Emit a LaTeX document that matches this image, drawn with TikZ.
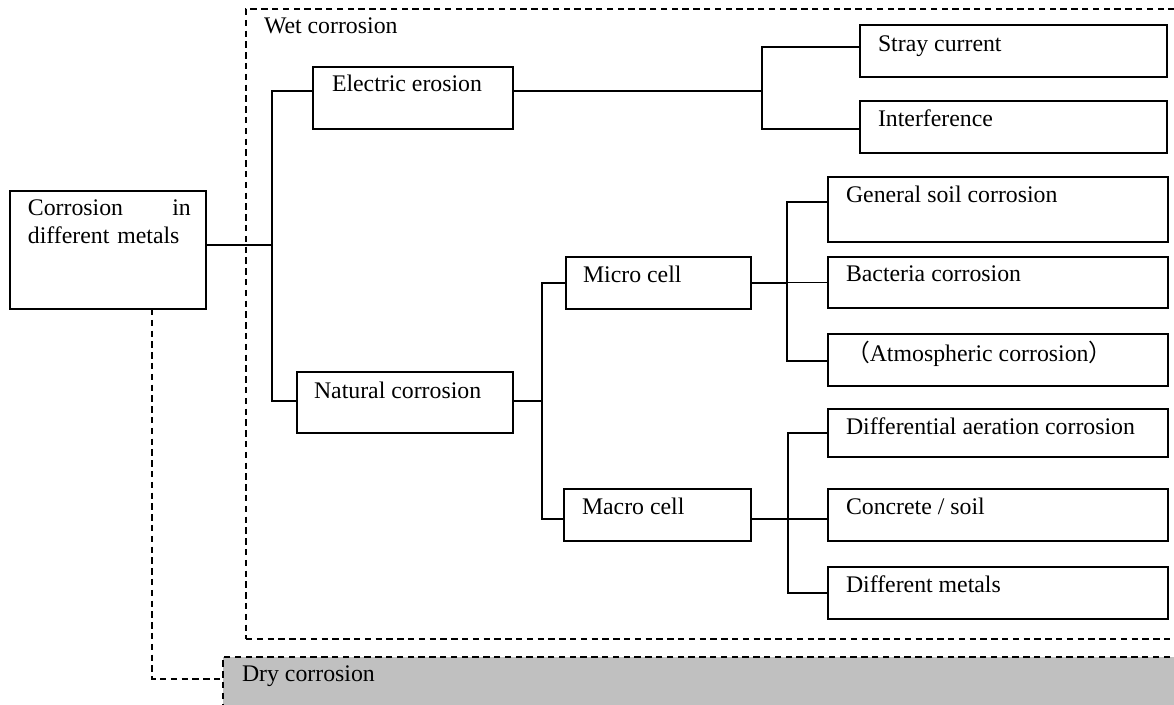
\documentclass[tikz,border=0pt]{standalone}
\usepackage{fontspec}
\setmainfont{Liberation Serif}
\newfontfamily\cjkfont{Noto Sans CJK SC}
\usetikzlibrary{calc}

% box given by its corners (x1,y1)-(x2,y2), in picture units
\newcommand\bx[5]{%
  \node[box, minimum width={(#4-#2)*0.5pt}, minimum height={(#5-#3)*0.5pt}] (#1) at (#2,#3) {};}
% text placed at an offset from the top-left corner of a box
\newcommand\tx[5]{%
  \node[lbl] (#1) at ($(#2.north west)+(#3,#4)$) {#5};}

\begin{document}
\begin{tikzpicture}[x=0.5pt,y=-0.5pt,
  line width=0.9pt,
  font=\fontsize{11.9}{13.6}\selectfont,
  box/.style={draw, rectangle, inner sep=0pt, outer sep=0pt, anchor=north west},
  lbl/.style={anchor=base west, inner sep=0pt, outer sep=0pt},
  dashline/.style={dash pattern=on 3.2pt off 2.2pt}]
\clip (0,0) rectangle (1174,705);

% groups
\node[box, dashline, fill={rgb,255:red,192;green,192;blue,192},
      minimum width={(1200-223)*0.5pt}, minimum height={(730-657)*0.5pt}] (dry) at (223,657) {};
\node[box, dashline, minimum width={(1200-246)*0.5pt}, minimum height={(639-9)*0.5pt}] (wet) at (246,9) {};
\tx{wet-t}{wet}{18}{25}{Wet corrosion}
\tx{dry-t}{dry}{19}{25}{Dry corrosion}

% root
\bx{root}{10}{191}{206}{309}
\node[anchor=base west, inner sep=0pt, text width=81.5pt, align=left] (root-t)
  at ($(root.north west)+(17,25)$) {Corrosion\hfill in\\different metals};

% second level
\bx{ee}{313}{67}{513}{129}
\tx{ee-t}{ee}{19}{25}{Electric erosion}
\bx{nc}{297}{372}{513}{433}
\tx{nc-t}{nc}{17}{27}{Natural corrosion}

% third level
\bx{mi}{566}{257}{751}{309}
\tx{mi-t}{mi}{17}{26}{Micro cell}
\bx{ma}{564}{489}{751}{541}
\tx{ma-t}{ma}{18}{26}{Macro cell}

% leaves
\bx{sc}{860}{25}{1167}{77}
\tx{sc-t}{sc}{18}{27}{Stray current}
\bx{itf}{860}{101}{1167}{153}
\tx{itf-t}{itf}{18}{26}{Interference}
\bx{gs}{828}{177}{1168}{242}
\tx{gs-t}{gs}{18}{26}{General soil corrosion}
\bx{bc}{828}{257}{1168}{308}
\tx{bc-t}{bc}{18}{25}{Bacteria corrosion}
\bx{at}{828}{334}{1168}{386}
\tx{at-t}{at}{18}{28}{{\cjkfont （}Atmospheric corrosion{\cjkfont ）}}
\bx{da}{828}{409}{1168}{457}
\tx{da-t}{da}{18}{26}{Differential aeration corrosion}
\bx{cs}{828}{489}{1168}{541}
\tx{cs-t}{cs}{18}{26}{Concrete / soil}
\bx{dm}{828}{567}{1168}{619}
\tx{dm-t}{dm}{18}{26}{Different metals}

% connectors
\draw ([yshift=2.5pt]root.east) -- ++(66,0);
\draw ([yshift=3.5pt]ee.west) -- ++(-41,0) |- ([yshift=0.75pt]nc.west);

\draw ([yshift=3.5pt]ee.east) -- ++(249,0);
\draw ([yshift=2pt]sc.west) -- ++(-98,0) |- ([yshift=-1pt]itf.west);

\draw ([yshift=0.75pt]nc.east) -- ++(29,0);
\draw (mi.west) -- ++(-24,0) |- ([yshift=-2pt]ma.west);

\draw (mi.east) -- ++(36,0);
\draw ([yshift=3.75pt]gs.west) -- ++(-41,0) |- ([yshift=-0.5pt]at.west);
\draw (bc.west) -- ++(-41,0);

\draw ([yshift=-2pt]ma.east) -- ++(37,0);
\draw (da.west) -- ++(-40,0) |- (dm.west);
\draw ([yshift=-2pt]cs.west) -- ++(-40,0);

% dry branch
\draw[dashline] ([xshift=22pt]root.south) |- ([yshift=7.25pt]dry.west);
\end{tikzpicture}
\end{document}
